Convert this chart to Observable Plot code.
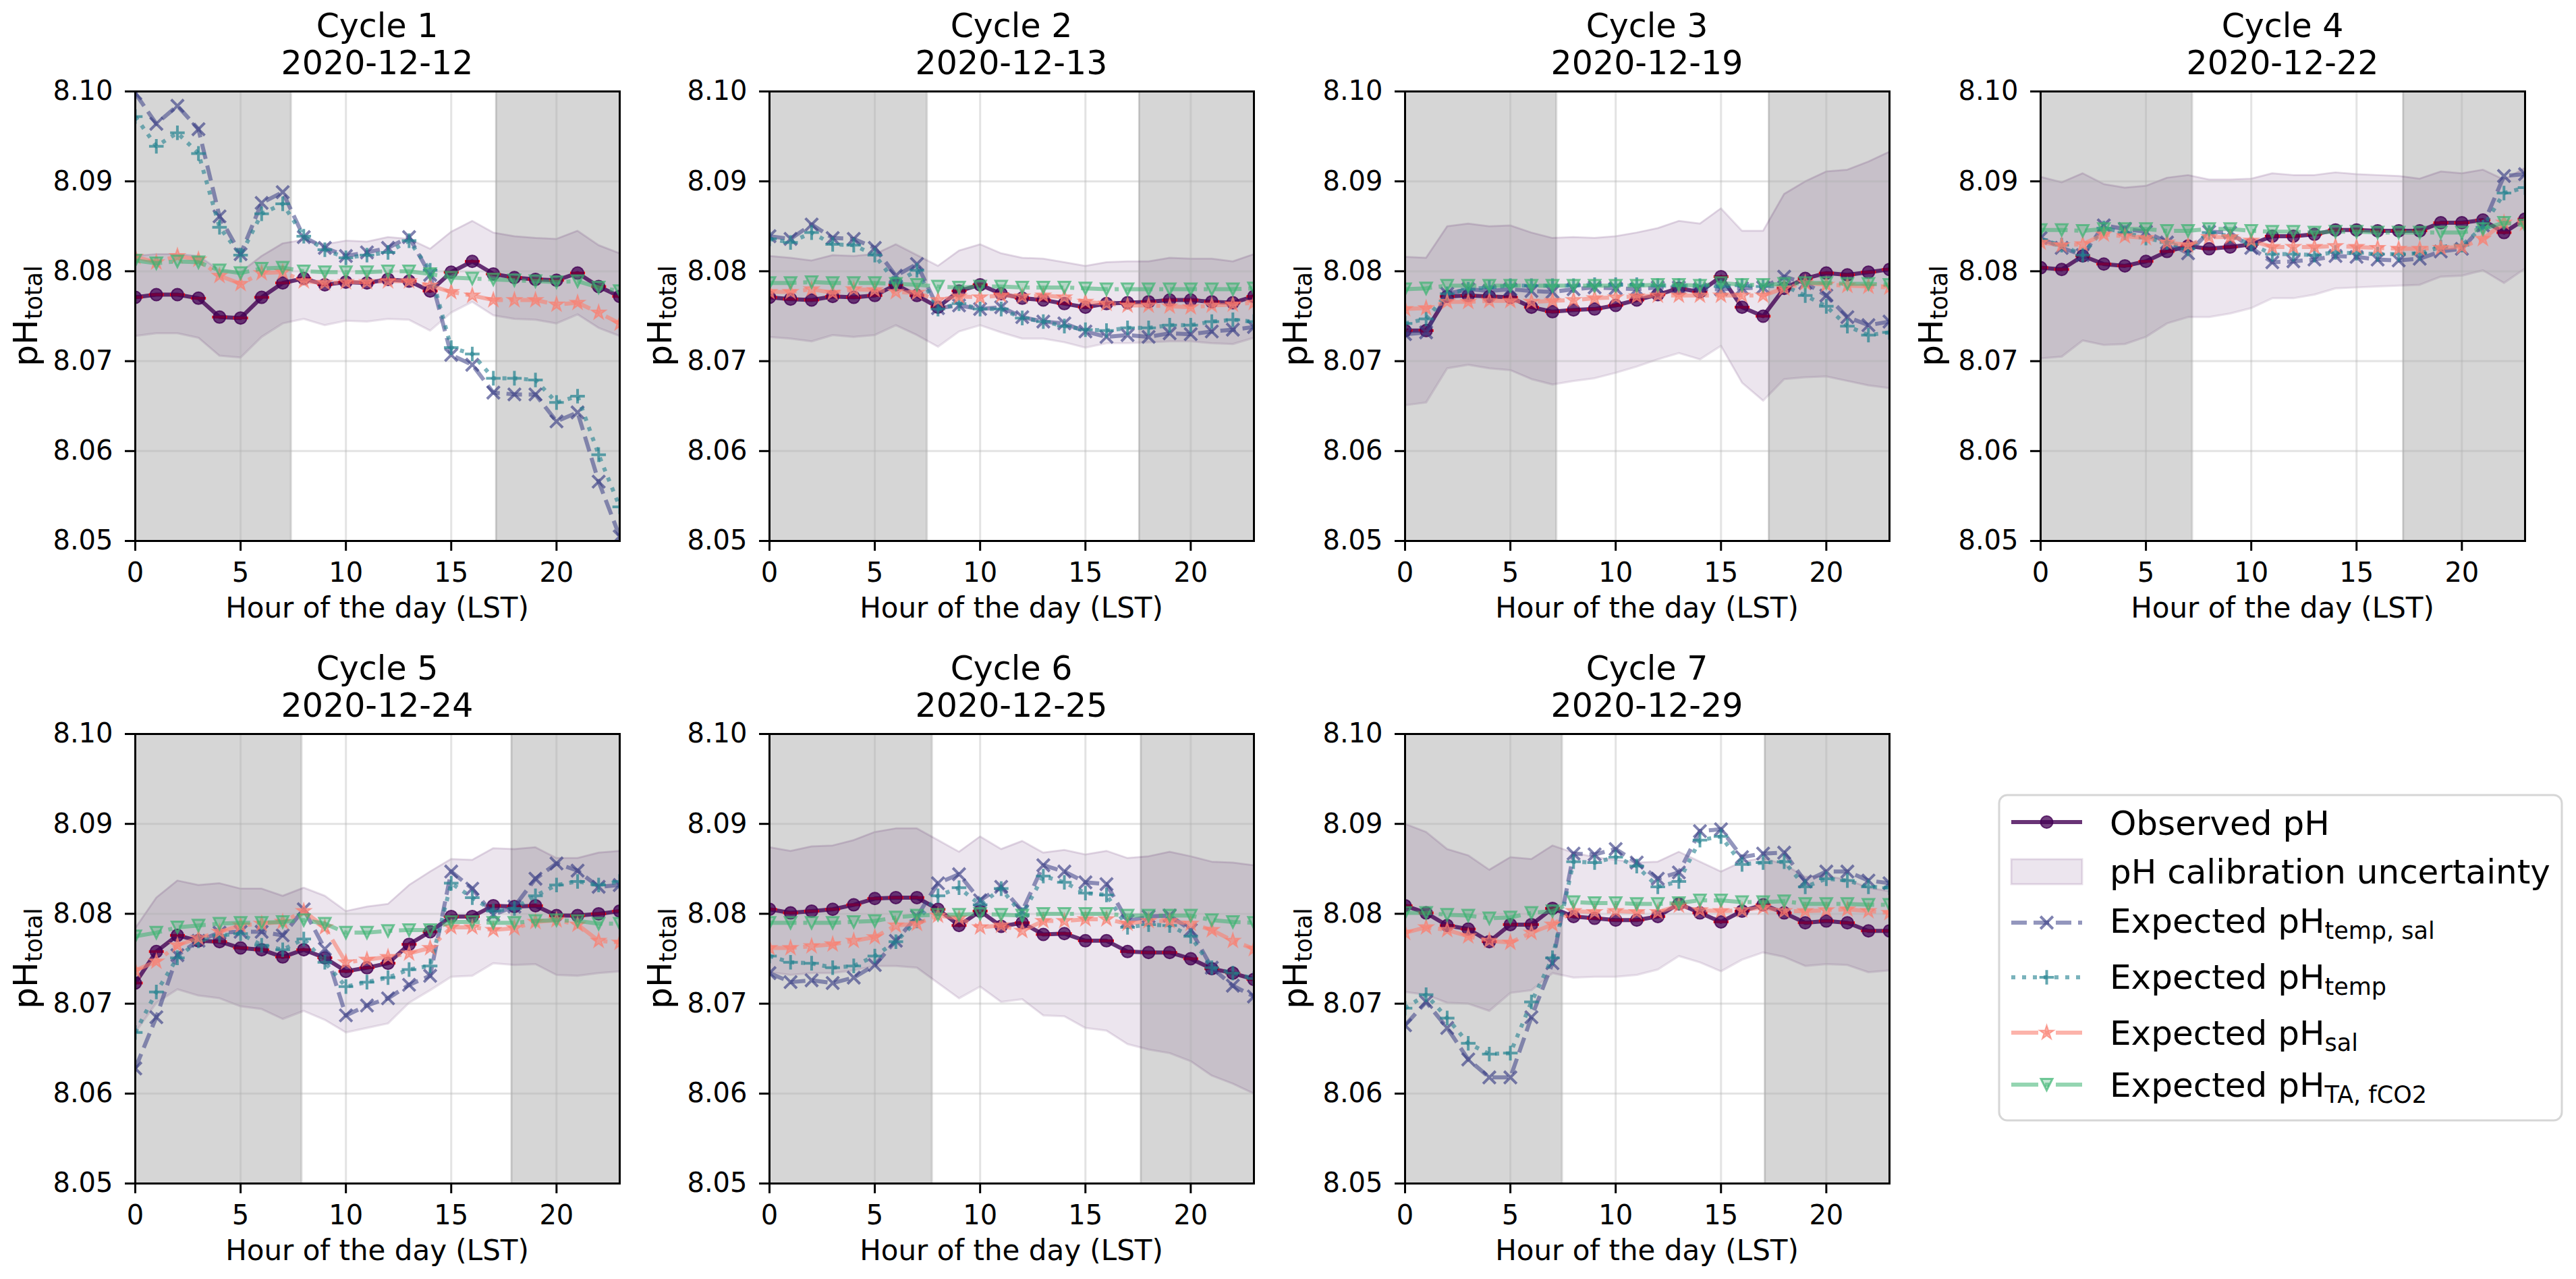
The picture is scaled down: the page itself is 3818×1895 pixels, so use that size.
<!DOCTYPE html>
<html>
<head>
<meta charset="utf-8">
<script src="https://cdn.jsdelivr.net/npm/d3@7"></script>
<script src="https://cdn.jsdelivr.net/npm/@observablehq/plot@0.6"></script>
<style>
  body { margin: 0; background: #fff; }
  #fig { position: relative; width: 3818px; height: 1895px; overflow: hidden; background: #fff; font-family: "DejaVu Sans", sans-serif; }
  #fig svg { position: absolute; overflow: visible; }
</style>
</head>
<body>
<div id="fig"></div>
<script>
// ---------------- data ----------------
const hours = [0,1,2,3,4,5,6,7,8,9,10,11,12,13,14,15,16,17,18,19,20,21,22,23];
const cycleNames = ["Cycle 1","Cycle 2","Cycle 3","Cycle 4","Cycle 5","Cycle 6","Cycle 7"];
const cycleDates = ["2020-12-12","2020-12-13","2020-12-19","2020-12-22","2020-12-24","2020-12-25","2020-12-29"];
const nightEnd   = [7.39, 7.47, 7.18, 7.19, 7.89, 7.71, 7.45];
const nightStart = [17.13, 17.55, 17.27, 17.21, 17.86, 17.63, 17.08];
const xTicks = [0, 5, 10, 15, 20];
const yTicks = [8.05, 8.06, 8.07, 8.08, 8.09, 8.10];

const phObserved = [
  [8.0771,8.0774,8.0774,8.0770,8.0749,8.0748,8.0771,8.0787,8.0792,8.0785,8.0788,8.0787,8.0791,8.0789,8.0778,8.0799,8.0811,8.0797,8.0793,8.0791,8.0790,8.0798,8.0783,8.0772],
  [8.0771,8.0769,8.0768,8.0772,8.0771,8.0773,8.0785,8.0773,8.0760,8.0778,8.0785,8.0775,8.0770,8.0768,8.0764,8.0760,8.0764,8.0765,8.0766,8.0768,8.0768,8.0766,8.0765,8.0772],
  [8.0734,8.0734,8.0772,8.0773,8.0772,8.0771,8.0760,8.0755,8.0757,8.0758,8.0762,8.0768,8.0774,8.0781,8.0777,8.0794,8.0760,8.0750,8.0781,8.0792,8.0798,8.0796,8.0799,8.0802],
  [8.0804,8.0802,8.0817,8.0808,8.0806,8.0811,8.0822,8.0828,8.0825,8.0827,8.0830,8.0839,8.0839,8.0841,8.0846,8.0846,8.0845,8.0845,8.0845,8.0854,8.0854,8.0857,8.0843,8.0858],
  [8.0723,8.0758,8.0776,8.0770,8.0769,8.0762,8.0760,8.0752,8.0760,8.0751,8.0736,8.0740,8.0745,8.0766,8.0780,8.0797,8.0797,8.0809,8.0808,8.0809,8.0798,8.0798,8.0800,8.0803],
  [8.0805,8.0801,8.0803,8.0805,8.0810,8.0817,8.0818,8.0818,8.0805,8.0787,8.0803,8.0786,8.0790,8.0777,8.0778,8.0770,8.0770,8.0758,8.0757,8.0757,8.0750,8.0739,8.0734,8.0727],
  [8.0809,8.0801,8.0787,8.0783,8.0769,8.0788,8.0788,8.0806,8.0797,8.0795,8.0793,8.0793,8.0797,8.0811,8.0801,8.0791,8.0803,8.0810,8.0801,8.0790,8.0792,8.0790,8.0781,8.0781]
];
const phUpper = [
  [8.0817,8.0819,8.0819,8.0817,8.0801,8.0799,8.0817,8.0831,8.0835,8.0830,8.0834,8.0833,8.0838,8.0836,8.0825,8.0844,8.0856,8.0843,8.0839,8.0837,8.0836,8.0845,8.0829,8.0820],
  [8.0817,8.0815,8.0812,8.0818,8.0817,8.0819,8.0830,8.0818,8.0806,8.0823,8.0830,8.0820,8.0815,8.0814,8.0810,8.0806,8.0810,8.0811,8.0811,8.0815,8.0814,8.0814,8.0811,8.0819],
  [8.0816,8.0815,8.0850,8.0853,8.0850,8.0851,8.0843,8.0837,8.0838,8.0837,8.0839,8.0843,8.0848,8.0856,8.0853,8.0870,8.0845,8.0845,8.0886,8.0900,8.0911,8.0913,8.0922,8.0933],
  [8.0905,8.0899,8.0909,8.0897,8.0893,8.0895,8.0904,8.0907,8.0902,8.0902,8.0903,8.0909,8.0907,8.0907,8.0910,8.0908,8.0907,8.0906,8.0903,8.0911,8.0909,8.0913,8.0902,8.0915],
  [8.0784,8.0818,8.0837,8.0832,8.0834,8.0828,8.0828,8.0820,8.0829,8.0820,8.0803,8.0808,8.0811,8.0832,8.0847,8.0861,8.0860,8.0873,8.0872,8.0874,8.0862,8.0862,8.0868,8.0870],
  [8.0874,8.0870,8.0875,8.0876,8.0882,8.0891,8.0895,8.0895,8.0882,8.0869,8.0886,8.0872,8.0881,8.0868,8.0871,8.0866,8.0870,8.0862,8.0864,8.0869,8.0864,8.0858,8.0857,8.0854],
  [8.0900,8.0891,8.0872,8.0865,8.0849,8.0863,8.0861,8.0876,8.0868,8.0863,8.0860,8.0857,8.0858,8.0869,8.0858,8.0847,8.0858,8.0862,8.0855,8.0841,8.0842,8.0838,8.0829,8.0825]
];
const phLower = [
  [8.0728,8.0731,8.0731,8.0726,8.0706,8.0704,8.0727,8.0742,8.0747,8.0740,8.0745,8.0744,8.0747,8.0746,8.0734,8.0754,8.0766,8.0751,8.0747,8.0746,8.0742,8.0752,8.0737,8.0728],
  [8.0727,8.0725,8.0722,8.0729,8.0727,8.0729,8.0740,8.0729,8.0716,8.0733,8.0740,8.0732,8.0725,8.0725,8.0721,8.0715,8.0720,8.0720,8.0721,8.0722,8.0722,8.0720,8.0719,8.0726],
  [8.0651,8.0654,8.0692,8.0696,8.0692,8.0690,8.0680,8.0674,8.0678,8.0681,8.0687,8.0694,8.0702,8.0709,8.0702,8.0717,8.0676,8.0656,8.0680,8.0682,8.0683,8.0678,8.0673,8.0670],
  [8.0703,8.0705,8.0723,8.0718,8.0719,8.0727,8.0742,8.0749,8.0749,8.0753,8.0759,8.0770,8.0770,8.0774,8.0781,8.0782,8.0783,8.0784,8.0785,8.0794,8.0795,8.0801,8.0787,8.0803],
  [8.0668,8.0701,8.0716,8.0709,8.0706,8.0697,8.0694,8.0683,8.0692,8.0682,8.0668,8.0673,8.0678,8.0701,8.0715,8.0730,8.0731,8.0745,8.0743,8.0744,8.0732,8.0731,8.0734,8.0736],
  [8.0735,8.0732,8.0734,8.0734,8.0737,8.0742,8.0742,8.0740,8.0723,8.0706,8.0719,8.0702,8.0705,8.0687,8.0686,8.0673,8.0670,8.0655,8.0649,8.0645,8.0636,8.0620,8.0611,8.0600],
  [8.0713,8.0710,8.0701,8.0700,8.0692,8.0712,8.0715,8.0734,8.0729,8.0730,8.0730,8.0732,8.0738,8.0753,8.0746,8.0736,8.0749,8.0757,8.0752,8.0742,8.0744,8.0743,8.0735,8.0737]
];
const phTempSal = [
  [8.0998,8.0964,8.0984,8.0958,8.0861,8.0819,8.0876,8.0888,8.0838,8.0826,8.0817,8.0821,8.0826,8.0838,8.0796,8.0707,8.0696,8.0665,8.0663,8.0663,8.0633,8.0643,8.0566,8.0505],
  [8.0839,8.0836,8.0852,8.0837,8.0836,8.0826,8.0795,8.0808,8.0759,8.0762,8.0758,8.0760,8.0749,8.0744,8.0742,8.0733,8.0727,8.0729,8.0727,8.0731,8.0730,8.0733,8.0735,8.0738],
  [8.0730,8.0732,8.0775,8.0780,8.0778,8.0780,8.0778,8.0777,8.0780,8.0782,8.0781,8.0780,8.0782,8.0782,8.0780,8.0780,8.0781,8.0782,8.0794,8.0787,8.0773,8.0749,8.0740,8.0744],
  [8.0837,8.0826,8.0818,8.0851,8.0847,8.0844,8.0832,8.0820,8.0844,8.0843,8.0826,8.0810,8.0811,8.0813,8.0817,8.0816,8.0813,8.0812,8.0814,8.0822,8.0825,8.0851,8.0906,8.0908],
  [8.0628,8.0685,8.0754,8.0770,8.0779,8.0780,8.0780,8.0776,8.0805,8.0761,8.0687,8.0698,8.0706,8.0721,8.0731,8.0847,8.0828,8.0799,8.0808,8.0839,8.0856,8.0848,8.0830,8.0832],
  [8.0734,8.0724,8.0726,8.0723,8.0729,8.0743,8.0770,8.0797,8.0834,8.0844,8.0815,8.0830,8.0803,8.0854,8.0847,8.0835,8.0833,8.0792,8.0797,8.0798,8.0782,8.0740,8.0720,8.0708],
  [8.0676,8.0702,8.0673,8.0638,8.0618,8.0618,8.0685,8.0745,8.0867,8.0866,8.0872,8.0857,8.0839,8.0846,8.0892,8.0894,8.0863,8.0867,8.0868,8.0836,8.0847,8.0847,8.0837,8.0834]
];
const phTemp = [
  [8.0972,8.0939,8.0954,8.0931,8.0849,8.0818,8.0864,8.0875,8.0839,8.0824,8.0815,8.0818,8.0821,8.0834,8.0801,8.0715,8.0708,8.0681,8.0681,8.0679,8.0654,8.0661,8.0596,8.0538],
  [8.0836,8.0832,8.0843,8.0830,8.0829,8.0818,8.0787,8.0801,8.0758,8.0764,8.0758,8.0758,8.0748,8.0744,8.0739,8.0735,8.0734,8.0737,8.0737,8.0740,8.0740,8.0744,8.0746,8.0744],
  [8.0742,8.0747,8.0775,8.0780,8.0782,8.0784,8.0784,8.0784,8.0784,8.0785,8.0785,8.0785,8.0784,8.0784,8.0784,8.0783,8.0784,8.0783,8.0784,8.0773,8.0761,8.0739,8.0729,8.0732],
  [8.0835,8.0829,8.0818,8.0848,8.0843,8.0837,8.0832,8.0825,8.0843,8.0839,8.0830,8.0819,8.0819,8.0818,8.0821,8.0820,8.0819,8.0819,8.0820,8.0827,8.0829,8.0849,8.0887,8.0893],
  [8.0668,8.0713,8.0751,8.0770,8.0776,8.0778,8.0765,8.0760,8.0772,8.0746,8.0719,8.0724,8.0729,8.0738,8.0742,8.0834,8.0818,8.0803,8.0806,8.0820,8.0832,8.0836,8.0832,8.0836],
  [8.0753,8.0746,8.0745,8.0740,8.0742,8.0753,8.0769,8.0792,8.0820,8.0829,8.0810,8.0828,8.0799,8.0842,8.0835,8.0823,8.0821,8.0785,8.0788,8.0787,8.0775,8.0740,8.0734,8.0728],
  [8.0695,8.0710,8.0684,8.0656,8.0644,8.0645,8.0702,8.0751,8.0858,8.0857,8.0863,8.0853,8.0830,8.0836,8.0882,8.0886,8.0855,8.0857,8.0858,8.0830,8.0839,8.0837,8.0830,8.0829]
];
const phSal = [
  [8.0816,8.0810,8.0817,8.0813,8.0795,8.0786,8.0798,8.0799,8.0789,8.0787,8.0788,8.0788,8.0789,8.0789,8.0784,8.0777,8.0773,8.0768,8.0768,8.0768,8.0763,8.0765,8.0754,8.0742],
  [8.0777,8.0777,8.0780,8.0776,8.0780,8.0779,8.0777,8.0776,8.0768,8.0772,8.0771,8.0773,8.0772,8.0773,8.0771,8.0766,8.0764,8.0762,8.0762,8.0761,8.0760,8.0762,8.0763,8.0765],
  [8.0758,8.0759,8.0766,8.0766,8.0767,8.0767,8.0766,8.0767,8.0768,8.0770,8.0771,8.0772,8.0773,8.0773,8.0773,8.0773,8.0773,8.0773,8.0781,8.0787,8.0785,8.0784,8.0783,8.0782],
  [8.0832,8.0829,8.0830,8.0841,8.0839,8.0837,8.0832,8.0829,8.0838,8.0838,8.0834,8.0827,8.0827,8.0827,8.0828,8.0827,8.0826,8.0825,8.0825,8.0826,8.0827,8.0836,8.0854,8.0853],
  [8.0737,8.0747,8.0765,8.0773,8.0780,8.0787,8.0789,8.0791,8.0803,8.0785,8.0746,8.0749,8.0752,8.0756,8.0762,8.0785,8.0785,8.0782,8.0784,8.0791,8.0793,8.0788,8.0770,8.0768],
  [8.0762,8.0762,8.0764,8.0766,8.0770,8.0774,8.0787,8.0789,8.0798,8.0795,8.0785,8.0787,8.0781,8.0792,8.0792,8.0794,8.0794,8.0789,8.0792,8.0792,8.0789,8.0782,8.0770,8.0761],
  [8.0779,8.0785,8.0782,8.0775,8.0770,8.0768,8.0779,8.0788,8.0803,8.0802,8.0803,8.0802,8.0802,8.0809,8.0804,8.0803,8.0804,8.0807,8.0803,8.0803,8.0804,8.0805,8.0803,8.0801]
];
const phTaFco2 = [
  [8.0812,8.0809,8.0811,8.0810,8.0801,8.0798,8.0803,8.0804,8.0800,8.0799,8.0799,8.0799,8.0800,8.0800,8.0797,8.0793,8.0792,8.0791,8.0790,8.0789,8.0788,8.0789,8.0782,8.0778],
  [8.0787,8.0787,8.0788,8.0787,8.0787,8.0787,8.0786,8.0785,8.0783,8.0782,8.0783,8.0783,8.0782,8.0782,8.0782,8.0781,8.0780,8.0780,8.0780,8.0780,8.0780,8.0780,8.0780,8.0781],
  [8.0780,8.0781,8.0784,8.0784,8.0784,8.0784,8.0784,8.0784,8.0784,8.0784,8.0784,8.0784,8.0785,8.0785,8.0784,8.0787,8.0785,8.0785,8.0786,8.0787,8.0787,8.0786,8.0786,8.0785],
  [8.0846,8.0846,8.0845,8.0847,8.0847,8.0847,8.0845,8.0845,8.0847,8.0847,8.0845,8.0844,8.0844,8.0843,8.0844,8.0844,8.0843,8.0843,8.0843,8.0843,8.0843,8.0847,8.0854,8.0851],
  [8.0775,8.0779,8.0785,8.0787,8.0789,8.0790,8.0790,8.0791,8.0793,8.0789,8.0779,8.0779,8.0781,8.0782,8.0782,8.0791,8.0791,8.0790,8.0790,8.0792,8.0793,8.0792,8.0789,8.0789],
  [8.0790,8.0790,8.0790,8.0790,8.0791,8.0792,8.0796,8.0798,8.0799,8.0799,8.0800,8.0799,8.0798,8.0800,8.0800,8.0800,8.0800,8.0798,8.0798,8.0798,8.0798,8.0793,8.0791,8.0790],
  [8.0801,8.0801,8.0799,8.0798,8.0795,8.0796,8.0801,8.0803,8.0813,8.0812,8.0812,8.0811,8.0811,8.0812,8.0815,8.0815,8.0813,8.0813,8.0814,8.0811,8.0811,8.0811,8.0810,8.0810]
];

// ---------------- styles ----------------
const C_OBS = "#440154", C_TS = "#3b3f86", C_T = "#21818f", C_S = "#fa8072", C_TA = "#3cb371";
const FONT = "DejaVu Sans";
const downTri = { draw(ctx, size) { const s = Math.sqrt(size / Math.PI); ctx.moveTo(0, s); ctx.lineTo(-s, -s); ctx.lineTo(s, -s); ctx.closePath(); } };
const capBar = { draw(ctx, size) { const s = Math.sqrt(size / Math.PI); ctx.moveTo(-s, 0); ctx.lineTo(s, 0); } };

const SVG_W = 938, SVG_H = 942, ML = 200, MR = 20, MT = 135, MB = 141;
const PW = SVG_W - ML - MR, PH = SVG_H - MT - MB;
const colLeft = [0, 940, 1882, 2824], rowTop = [0, 952];

const fig = document.getElementById("fig");

function panel(i) {
  const rows = hours.map((h, j) => ({
    h, obs: phObserved[i][j], lo: phLower[i][j], hi: phUpper[i][j],
    ts: phTempSal[i][j], t: phTemp[i][j], s: phSal[i][j], ta: phTaFco2[i][j]
  }));
  const night = [{a: hours[0], b: nightEnd[i]}, {a: nightStart[i], b: hours[hours.length - 1]}];
  const svg = Plot.plot({
    width: SVG_W, height: SVG_H,
    marginLeft: ML, marginRight: MR, marginTop: MT, marginBottom: MB,
    style: {fontFamily: FONT, fontSize: "40px", background: "transparent", overflow: "visible", color: "black"},
    x: {domain: [0, 23]},
    y: {domain: [8.05, 8.10]},
    marks: [
      Plot.rect(night, {x1: "a", x2: "b", fill: "#808080", fillOpacity: 0.32}),
      Plot.ruleX([nightEnd[i], nightStart[i]], {stroke: "#808080", strokeOpacity: 0.3, strokeWidth: 3}),
      Plot.areaY(rows, {x: "h", y1: "lo", y2: "hi", fill: C_OBS, fillOpacity: 0.1, clip: true}),
      Plot.line(rows, {x: "h", y: "hi", stroke: C_OBS, strokeOpacity: 0.12, strokeWidth: 3, clip: true}),
      Plot.line(rows, {x: "h", y: "lo", stroke: C_OBS, strokeOpacity: 0.12, strokeWidth: 3, clip: true}),
      Plot.gridX({ticks: xTicks, stroke: "#b0b0b0", strokeOpacity: 0.35, strokeWidth: 3}),
      Plot.gridY({ticks: yTicks, stroke: "#b0b0b0", strokeOpacity: 0.35, strokeWidth: 3}),
      // observed
      Plot.line(rows, {x: "h", y: "obs", stroke: C_OBS, strokeOpacity: 0.8, strokeWidth: 6, clip: true}),
      Plot.dot(rows, {x: "h", y: "obs", symbol: capBar, r: 11, stroke: "red", strokeWidth: 4, fill: "none", clip: true}),
      Plot.dot(rows, {x: "h", y: "obs", r: 9, fill: C_OBS, fillOpacity: 0.75, stroke: C_OBS, strokeOpacity: 0.8, strokeWidth: 2, clip: true}),
      // expected temp, sal
      Plot.line(rows, {x: "h", y: "ts", stroke: C_TS, strokeOpacity: 0.55, strokeWidth: 6, strokeDasharray: "23,10", strokeLinecap: "butt", clip: true}),
      Plot.dot(rows, {x: "h", y: "ts", symbol: "times", r: 8.5, stroke: C_TS, strokeOpacity: 0.65, strokeWidth: 4, fill: "none", clip: true}),
      // expected temp
      Plot.line(rows, {x: "h", y: "t", stroke: C_T, strokeOpacity: 0.6, strokeWidth: 6, strokeDasharray: "6,10", strokeLinecap: "butt", clip: true}),
      Plot.dot(rows, {x: "h", y: "t", symbol: "plus", r: 7, stroke: C_T, strokeOpacity: 0.7, strokeWidth: 4, fill: "none", clip: true}),
      // expected sal
      Plot.line(rows, {x: "h", y: "s", stroke: C_S, strokeOpacity: 0.6, strokeWidth: 6, strokeDasharray: "40,10,6,10", strokeLinecap: "butt", clip: true}),
      Plot.dot(rows, {x: "h", y: "s", symbol: "star", r: 6.5, fill: C_S, fillOpacity: 0.6, stroke: C_S, strokeOpacity: 0.7, strokeWidth: 2, clip: true}),
      // expected TA, fCO2
      Plot.line(rows, {x: "h", y: "ta", stroke: C_TA, strokeOpacity: 0.55, strokeWidth: 6, strokeDasharray: "40,10,6,10", strokeLinecap: "butt", clip: true}),
      Plot.dot(rows, {x: "h", y: "ta", symbol: downTri, r: 8.5, fill: C_TA, fillOpacity: 0.3, stroke: C_TA, strokeOpacity: 0.7, strokeWidth: 3, clip: true}),
      Plot.frame({stroke: "black", strokeWidth: 3}),
      Plot.axisX({ticks: xTicks, tickFormat: d => String(d), tickSize: 15, tickPadding: 17, strokeWidth: 3, fontSize: 40, label: null, fill: "black", stroke: "black"}),
      Plot.axisY({ticks: yTicks, tickFormat: d3.format(".2f"), tickSize: 15, tickPadding: 18, strokeWidth: 3, fontSize: 40, label: null, fill: "black", stroke: "black"})
    ]
  });
  const col = i % 4, row = Math.floor(i / 4);
  svg.style.left = colLeft[col] + "px";
  svg.style.top = rowTop[row] + "px";
  const s = d3.select(svg);
  const cx = ML + PW / 2;
  const g = s.append("g").attr("font-family", FONT).attr("fill", "black");
  g.append("text").attr("x", cx).attr("y", 55).attr("text-anchor", "middle").attr("font-size", 49).text(cycleNames[i]);
  g.append("text").attr("x", cx).attr("y", 110).attr("text-anchor", "middle").attr("font-size", 49).text(cycleDates[i]);
  g.append("text").attr("x", cx).attr("y", MT + PH + 114).attr("text-anchor", "middle").attr("font-size", 42).text("Hour of the day (LST)");
  const yl = g.append("text").attr("transform", `translate(${ML - 145},${MT + PH / 2}) rotate(-90)`).attr("text-anchor", "middle").attr("font-size", 50);
  yl.append("tspan").text("pH");
  yl.append("tspan").attr("font-size", 35).attr("dy", 7).text("total");
  fig.appendChild(svg);
}
for (let i = 0; i < cycleNames.length; i++) panel(i);

// ---------------- legend ----------------
const LX = 2940, LY = 1160;
const leg = d3.select(fig).append("svg")
  .attr("width", 878).attr("height", 520)
  .style("left", LX + "px").style("top", LY + "px")
  .attr("font-family", FONT);
leg.append("rect").attr("x", 2963 - LX).attr("y", 1178 - LY).attr("width", 834).attr("height", 482)
  .attr("rx", 12).attr("fill", "white").attr("stroke", "#d6d6d6").attr("stroke-width", 3);
const hx1 = 2981 - LX, hx2 = 3086 - LX, hcx = (hx1 + hx2) / 2, tx = 3127 - LX;
function legLine(y, color, op, dash) {
  leg.append("line").attr("x1", hx1).attr("x2", hx2).attr("y1", y).attr("y2", y)
    .attr("stroke", color).attr("stroke-opacity", op).attr("stroke-width", 6)
    .attr("stroke-dasharray", dash || null);
}
function legText(y, main, sub) {
  const t = leg.append("text").attr("x", tx).attr("y", y).attr("font-size", 50).attr("fill", "black");
  t.append("tspan").text(main);
  if (sub) t.append("tspan").attr("font-size", 35).attr("dy", 9).text(sub);
}
const yObs = 1218 - LY, yUnc = 1292 - LY, yTS = 1367 - LY, yT = 1448 - LY, yS = 1530 - LY, yTA = 1607 - LY;
legLine(yObs, C_OBS, 0.8);
leg.append("circle").attr("cx", hcx).attr("cy", yObs).attr("r", 9).attr("fill", C_OBS).attr("fill-opacity", 0.75).attr("stroke", C_OBS).attr("stroke-opacity", 0.8).attr("stroke-width", 2);
legText(1237 - LY, "Observed pH");
leg.append("rect").attr("x", hx1).attr("y", 1273 - LY).attr("width", hx2 - hx1).attr("height", 37)
  .attr("fill", C_OBS).attr("fill-opacity", 0.1).attr("stroke", C_OBS).attr("stroke-opacity", 0.12).attr("stroke-width", 3);
legText(1309 - LY, "pH calibration uncertainty");
legLine(yTS, C_TS, 0.55, "23,10");
leg.append("path").attr("transform", `translate(${hcx},${yTS})`).attr("d", d3.symbol(d3.symbolTimes, Math.PI * 8.5 * 8.5)())
  .attr("fill", "none").attr("stroke", C_TS).attr("stroke-opacity", 0.65).attr("stroke-width", 4);
legText(1382 - LY, "Expected pH", "temp, sal");
legLine(yT, C_T, 0.6, "6,10");
leg.append("path").attr("transform", `translate(${hcx},${yT})`).attr("d", d3.symbol(d3.symbolPlus, Math.PI * 7 * 7)())
  .attr("fill", "none").attr("stroke", C_T).attr("stroke-opacity", 0.7).attr("stroke-width", 4);
legText(1465 - LY, "Expected pH", "temp");
legLine(yS, C_S, 0.6, "40,10,6,10");
leg.append("path").attr("transform", `translate(${hcx},${yS})`).attr("d", d3.symbol(d3.symbolStar, Math.PI * 6.5 * 6.5)())
  .attr("fill", C_S).attr("fill-opacity", 0.6).attr("stroke", C_S).attr("stroke-opacity", 0.7).attr("stroke-width", 2);
legText(1548 - LY, "Expected pH", "sal");
legLine(yTA, C_TA, 0.55, "40,10,6,10");
leg.append("path").attr("transform", `translate(${hcx},${yTA})`).attr("d", d3.symbol(downTri, Math.PI * 8.5 * 8.5)())
  .attr("fill", C_TA).attr("fill-opacity", 0.3).attr("stroke", C_TA).attr("stroke-opacity", 0.7).attr("stroke-width", 3);
legText(1625 - LY, "Expected pH", "TA, fCO2");
</script>
</body>
</html>
